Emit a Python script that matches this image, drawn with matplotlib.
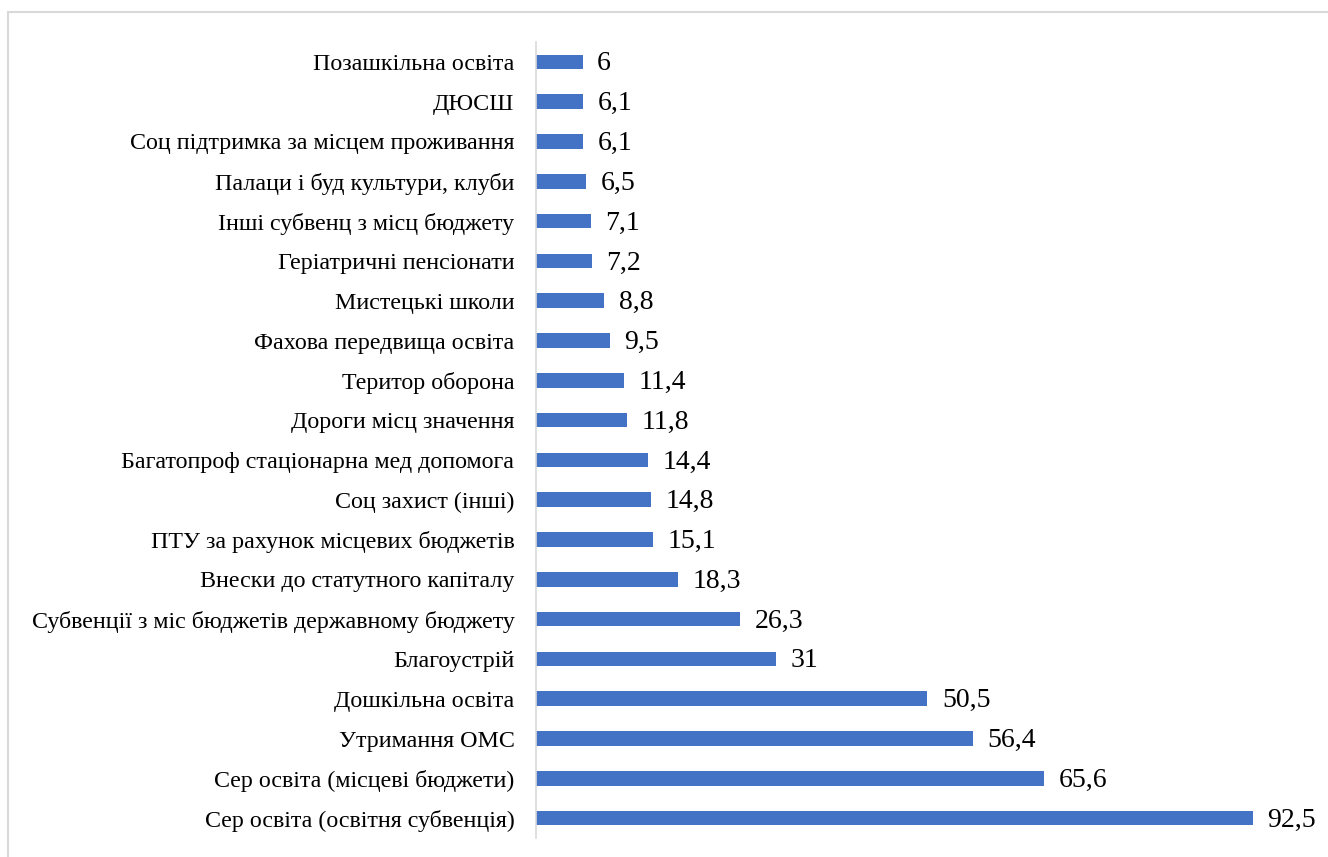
import matplotlib
matplotlib.use("Agg")
import matplotlib.pyplot as plt
from matplotlib.patches import Rectangle

categories = [
    "Позашкільна освіта",
    "ДЮСШ",
    "Соц підтримка за місцем проживання",
    "Палаци і буд культури, клуби",
    "Інші субвенц з місц бюджету",
    "Геріатричні пенсіонати",
    "Мистецькі школи",
    "Фахова передвища освіта",
    "Територ оборона",
    "Дороги місц значення",
    "Багатопроф стаціонарна мед допомога",
    "Соц захист (інші)",
    "ПТУ за рахунок місцевих бюджетів",
    "Внески до статутного капіталу",
    "Субвенції з міс бюджетів державному бюджету",
    "Благоустрій",
    "Дошкільна освіта",
    "Утримання ОМС",
    "Сер освіта (місцеві бюджети)",
    "Сер освіта (освітня субвенція)",
]
values = [6, 6.1, 6.1, 6.5, 7.1, 7.2, 8.8, 9.5, 11.4, 11.8, 14.4, 14.8, 15.1,
          18.3, 26.3, 31, 50.5, 56.4, 65.6, 92.5]

plt.rcParams['font.family'] = ['Liberation Serif', 'DejaVu Serif']

W, H = 1328, 857
fig = plt.figure(figsize=(W / 100, H / 100), dpi=100)
fig.patch.set_facecolor('white')

# outer light border
fig.patches.append(Rectangle((8 / W, -0.05), 1.1, 1 - 12 / H + 0.05,
                             transform=fig.transFigure, fill=False,
                             edgecolor='#d9d9d9', linewidth=1.5))

ax = fig.add_axes([536 / W, 1 - 838 / H, (1311 - 536) / W, (838 - 42) / H])
n = len(categories)
pos = list(range(n))
ax.barh(pos, values, height=0.37, color='#4472C4')
ax.set_ylim(n - 0.5, -0.5)
ax.set_xlim(0, 100)
ax.set_yticks(pos)
ax.set_yticklabels(categories, fontsize=17.3)
ax.tick_params(axis='y', length=0, pad=15.5)
ax.set_xticks([])
for s in ['top', 'right', 'bottom']:
    ax.spines[s].set_visible(False)
ax.spines['left'].set_color('#d9d9d9')
ax.spines['left'].set_linewidth(1.2)

for p, v in zip(pos, values):
    lbl = str(v).replace('.', ',')
    if lbl.endswith(',0'):
        lbl = lbl[:-2]
    ax.annotate(lbl, (v, p), xytext=(10.5, -1.5), textcoords='offset points',
                va='center', ha='left', fontsize=20)

fig.savefig('out.png', dpi=100)
